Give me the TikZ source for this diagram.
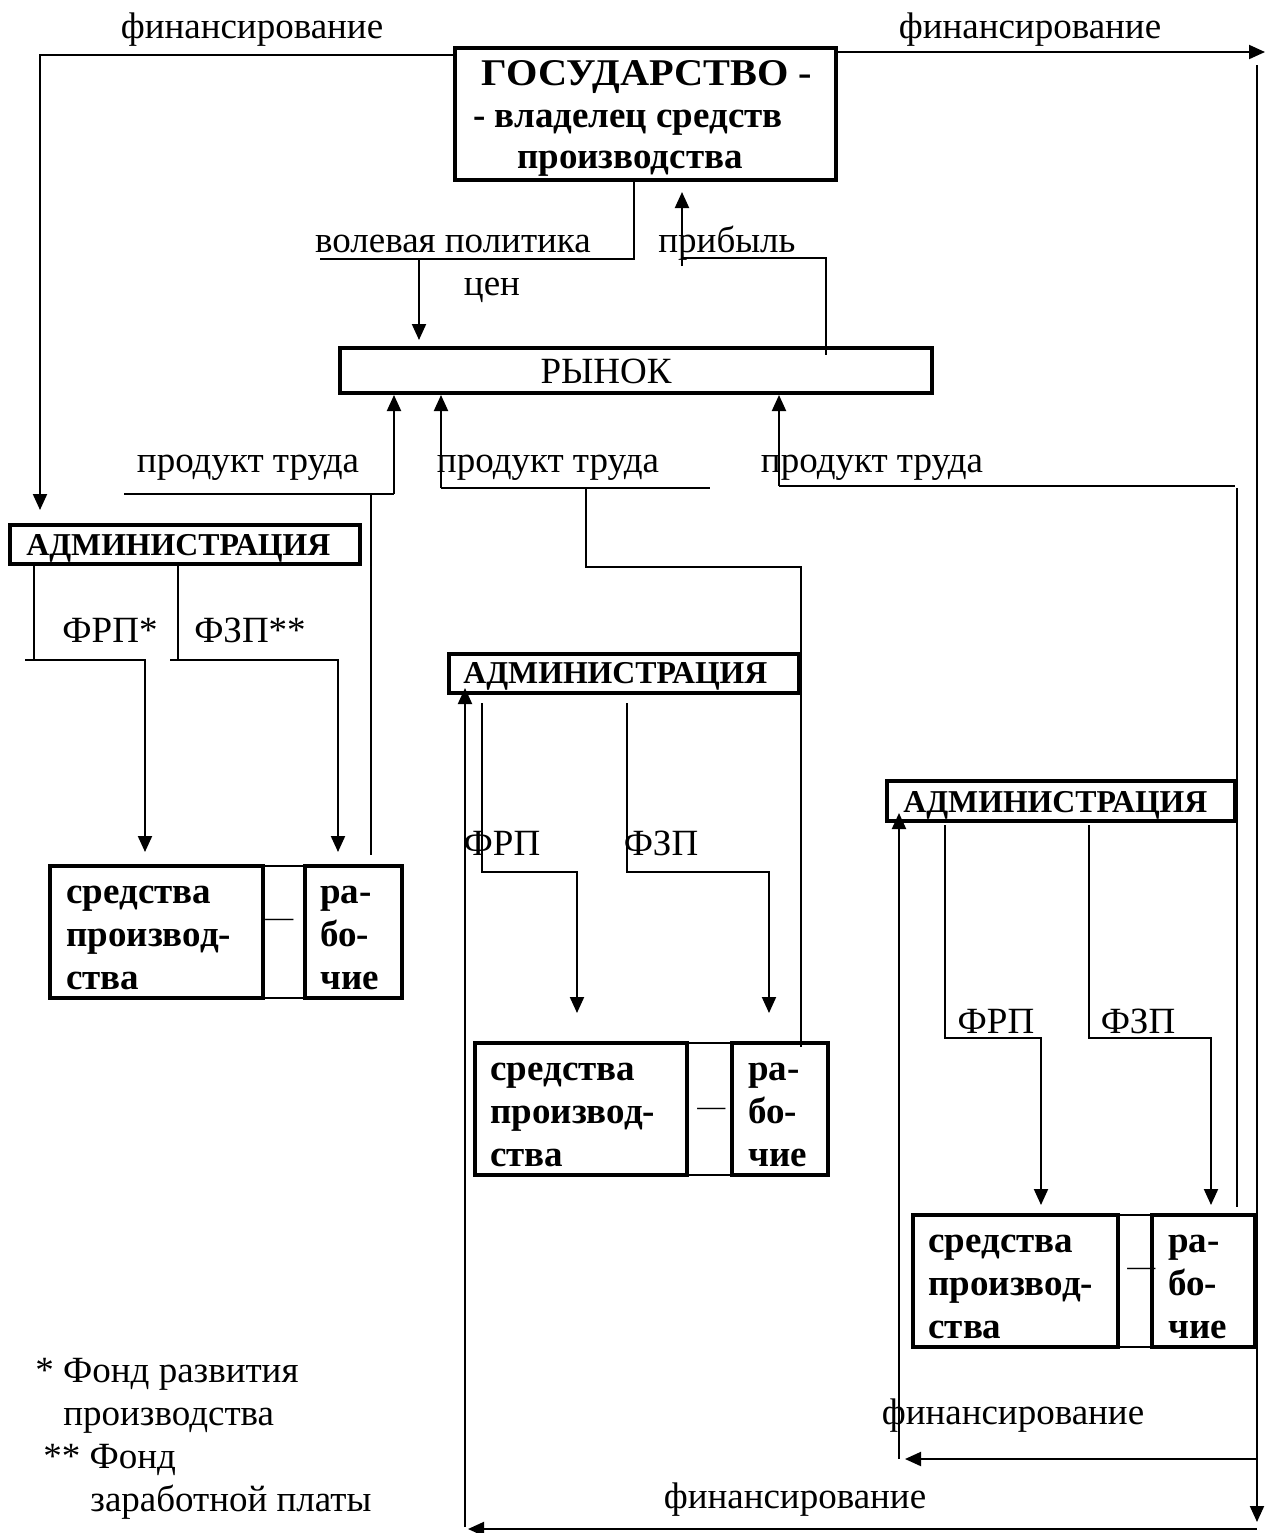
\documentclass[tikz,border=0pt]{standalone}
\usepackage{graphicx}
\usepackage{fontspec}
\setmainfont{Liberation Serif}
\usetikzlibrary{arrows.meta,fit}
\newcommand\fReg{\fontsize{18.5}{21.5}\selectfont}
\newcommand\fBold{\fontsize{18.5}{21.5}\selectfont\bfseries}
\newcommand\fAdm{\fontsize{15.9}{18}\selectfont\bfseries}
\newcommand\fDash{\fontsize{14}{16}\selectfont}
\begin{document}
\begin{tikzpicture}[x=0.5pt,y=-0.5pt,
  box/.style={draw, line width=1.7pt, inner sep=0pt},
  thinbox/.style={draw, line width=0.9pt, inner sep=0pt},
  conn/.style={line width=1pt},
  arr/.style={conn, -{Triangle[width=7pt,length=8pt]}},
  txt/.style={font=\fReg, inner sep=0pt},
  btxt/.style={font=\fBold, inner sep=0pt, align=left},
  atxt/.style={font=\fAdm, inner sep=0pt},
  dtxt/.style={font=\fDash, inner sep=0pt}]
\useasboundingbox (0,0) rectangle (1274,1533);

% ---------- boxes ----------
\node[box, fit={(455,48)(836,180)}] (gos) {};
\node[btxt, anchor=base] (gosT1) at (647,85) {\scalebox{1.09}[1.02]{ГОСУДАРСТВО -}};
\node[btxt, anchor=base] (gosT2) at (628,127) {- владелец средств};
\node[btxt, anchor=base] (gosT3) at (630,168) {производства};

\node[box, fit={(340,348)(932,393)}] (market) {};
\node[txt, anchor=base] (marketT) at (606,383) {РЫНОК};

\node[box, fit={(10,525)(360,564)}] (adm1) {};
\node[atxt, anchor=base west] (adm1T) at (26,555) {АДМИНИСТРАЦИЯ};
\node[box, fit={(449,654)(799,693)}] (adm2) {};
\node[atxt, anchor=base west] (adm2T) at (463,683) {АДМИНИСТРАЦИЯ};
\node[box, fit={(887,781)(1235,821)}] (adm3) {};
\node[atxt, anchor=base west] (adm3T) at (903,812) {АДМИНИСТРАЦИЯ};

% worker group 1
\node[thinbox, fit={(263,866)(305,998)}] (mid1) {};
\node[box, fit={(50,866)(263,998)}] (sp1) {};
\node[box, fit={(305,866)(402,998)}] (rab1) {};
\node[btxt, anchor=west] (sp1T) at (66,938) {средства\\производ-\\ства};
\node[btxt, anchor=west] (rab1T) at (320,938) {ра-\\бо-\\чие};
\node[dtxt, anchor=base west] (dash1) at (265,926) {—};
% worker group 2
\node[thinbox, fit={(687,1043)(732,1175)}] (mid2) {};
\node[box, fit={(475,1043)(687,1175)}] (sp2) {};
\node[box, fit={(732,1043)(828,1175)}] (rab2) {};
\node[btxt, anchor=west] (sp2T) at (490,1115) {средства\\производ-\\ства};
\node[btxt, anchor=west] (rab2T) at (748,1115) {ра-\\бо-\\чие};
\node[dtxt, anchor=base west] (dash2) at (697,1115) {—};
% worker group 3
\node[thinbox, fit={(1118,1215)(1152,1347)}] (mid3) {};
\node[box, fit={(913,1215)(1118,1347)}] (sp3) {};
\node[box, fit={(1152,1215)(1255,1347)}] (rab3) {};
\node[btxt, anchor=west] (sp3T) at (928,1287) {средства\\производ-\\ства};
\node[btxt, anchor=west] (rab3T) at (1168,1287) {ра-\\бо-\\чие};
\node[dtxt, anchor=base west] (dash3) at (1127,1275) {—};

% ---------- free ends ----------
\coordinate (fL) at (40,510);
\coordinate (fR) at (1265,52);
\coordinate (vRtop) at (1257,65);
\coordinate (vRbot) at (1257,1522);

% ---------- financing ----------
\draw[arr] (gos.west |- 0,55) -| (fL);
\draw[arr] (gos.east |- 0,52) -- (fR);
\draw[arr] (vRtop) -- (vRbot);
\draw[arr] (1257,1529) -- (468,1529);
\draw[arr] (465,1527) -- (adm2.south west -| 465,0) -- (465,688);
\draw[arr] (1257,1459) -- (905,1459);
\draw[arr] (899,1459) -- (899,813);
\node[txt, anchor=base] (finA) at (252,38) {финансирование};
\node[txt, anchor=base] (finB) at (1030,38) {финансирование};
\node[txt, anchor=base] (finC) at (1013,1424) {финансирование};
\node[txt, anchor=base] (finD) at (795,1508) {финансирование};

% ---------- price policy / profit ----------
\draw[conn] (gos.south -| 634,0) -- (634,259) -- (320,259);
\draw[arr] (419,259) -- (419,340);
\node[txt, anchor=base] (polT) at (453,252) {волевая политика};
\node[txt, anchor=base] (cenT) at (492,295) {цен};
\draw[arr] (682,266) -- (682,192);
\draw[conn] (682,258) -- (826,258) -- (826,355);
\node[txt, anchor=base] (profT) at (727,252) {прибыль};

% ---------- product of labour ----------
\draw[conn] (124,494) -- (394,494);
\draw[arr] (394,494) -- (394,395);
\draw[conn] (371,494) -- (371,855);
\node[txt, anchor=base] (pr1) at (248,472) {продукт труда};

\draw[arr] (441,488) -- (441,395);
\draw[conn] (441,488) -- (710,488);
\draw[conn] (586,488) -- (586,567) -- (801,567) -- (801,1047);
\node[txt, anchor=base] (pr2) at (548,472) {продукт труда};

\draw[arr] (779,486) -- (779,395);
\draw[conn] (779,486) -- (1235,486);
\draw[conn] (1237,488) -- (1237,1207);
\node[txt, anchor=base] (pr3) at (872,472) {продукт труда};

% ---------- funds, group 1 ----------
\draw[conn] (adm1.south -| 34,0) -- (34,661);
\draw[arr] (25,660) -| (145,852);
\draw[conn] (adm1.south -| 178,0) -- (178,661);
\draw[arr] (170,660) -| (338,852);
\node[txt, anchor=base] (frp1) at (110,642) {ФРП*};
\node[txt, anchor=base] (fzp1) at (250,642) {ФЗП**};

% ---------- funds, group 2 ----------
\draw[arr] (482,703) |- (577,872) -- (577,1013);
\draw[arr] (627,703) |- (769,872) -- (769,1013);
\node[txt, anchor=base] (frp2) at (502,855) {ФРП};
\node[txt, anchor=base] (fzp2) at (661,855) {ФЗП};

% ---------- funds, group 3 ----------
\draw[arr] (945,825) |- (1041,1038) -- (1041,1205);
\draw[arr] (1089,825) |- (1211,1038) -- (1211,1205);
\node[txt, anchor=base] (frp3) at (996,1033) {ФРП};
\node[txt, anchor=base] (fzp3) at (1138,1033) {ФЗП};

% ---------- footnotes ----------
\node[txt, anchor=base west] (n1) at (35,1382) {* Фонд развития};
\node[txt, anchor=base west] (n2) at (63,1425) {производства};
\node[txt, anchor=base west] (n3) at (43,1468) {** Фонд};
\node[txt, anchor=base west] (n4) at (90,1511) {заработной платы};
\end{tikzpicture}
\end{document}
